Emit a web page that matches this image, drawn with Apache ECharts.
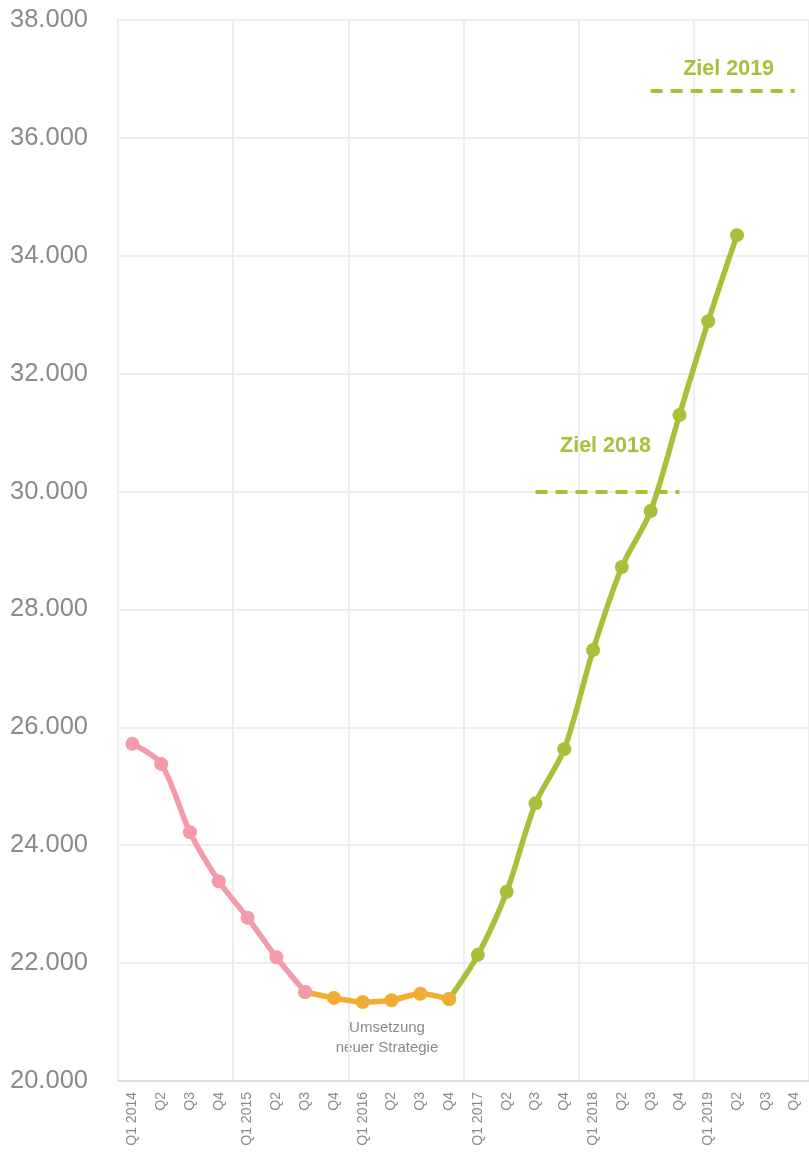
<!DOCTYPE html>
<html>
<head>
<meta charset="utf-8">
<script src="https://cdn.jsdelivr.net/npm/echarts@6/dist/echarts.min.js"></script>
<style>html,body{margin:0;padding:0;background:#fff;}#c{width:809px;height:1155px;}</style>
</head>
<body>
<div id="c"></div>
<script>
const categories = ['Q1 2014','Q2','Q3','Q4','Q1 2015','Q2','Q3','Q4','Q1 2016','Q2','Q3','Q4','Q1 2017','Q2','Q3','Q4','Q1 2018','Q2','Q3','Q4','Q1 2019','Q2','Q3','Q4'];
// values per quarter (null = not part of this phase)
const phaseBefore = [25720,25380,24220,23390,22770,22100,21510,null,null,null,null,null,null,null,null,null,null,null,null,null,null,null,null,null];
const phaseTransition = [null,null,null,null,null,null,21510,21410,21340,21370,21480,21390,null,null,null,null,null,null,null,null,null,null,null,null];
const phaseAfter = [null,null,null,null,null,null,null,null,null,null,null,21390,22140,23210,24710,25630,27310,28720,29670,31300,32890,34350,null,null];
const targets = [
  {name:'Ziel 2018', value:30000, from:[2017,3], to:[2018,4]},
  {name:'Ziel 2019', value:36800, from:[2018,3], to:[2019,4]}
];
const yTicks = {min:20000, max:38000, interval:2000};
const firstYear = 2014;

function qIndex(yq){ return (yq[0]-firstYear)*4 + (yq[1]-1); }

const FONT = '"Liberation Sans",Arial,sans-serif';
const GREEN = '#a6c03a', ORANGE = '#f2ac32', PINK = '#f59aaa', GREY = '#8a8a8a';

const chart = echarts.init(document.getElementById('c'));
const targetLabelStyle = [{distance: 34, padding: [0, 4, 0, 0]}, {distance: 11, padding: [0, 0, 0, 12]}];
const option = {
  animation: false,
  grid: {left: 118, right: 0, top: 20, bottom: 74, containLabel: false, outerBoundsMode: 'none'},
  xAxis: {
    type: 'category',
    data: categories.map((c,i)=>({value: c + '\u200b'.repeat(i)})),
    boundaryGap: true,
    axisLine: {show: true, lineStyle: {color: '#dedede', width: 2}},
    axisTick: {show: false},
    axisLabel: {rotate: 90, color: GREY, fontSize: 14, fontFamily: FONT, margin: 11, interval: 0,
      formatter: v => v.replace(/\u200b/g,'')},
    splitLine: {show: true, interval: (i)=> i % 4 === 0, lineStyle: {color: '#eeeeee', width: 2}}
  },
  yAxis: {
    type: 'value', min: yTicks.min, max: yTicks.max, interval: yTicks.interval,
    axisLine: {show: false}, axisTick: {show: false},
    axisLabel: {color: GREY, fontSize: 25.5, fontFamily: FONT, margin: 30, padding: [3, 0, 0, 0],
      formatter: v => (v/1000).toFixed(3)},
    splitLine: {show: true, lineStyle: {color: '#eeeeee', width: 2}}
  },
  series: [
    {
      type: 'line', data: phaseAfter, smooth: 0.3, symbol: 'circle', symbolSize: 14,
      lineStyle: {color: GREEN, width: 5.5}, itemStyle: {color: GREEN},
      markLine: {
        silent: true, symbol: ['none','none'],
        lineStyle: {color: GREEN, width: 4, type: [12, 8]},
        data: targets.map((t, k) => [
          {coord: [qIndex(t.from), t.value],
           label: {show: true, position: 'middle', formatter: t.name, color: GREEN, fontWeight: 'bold',
             fontSize: 21.5, fontFamily: FONT, distance: targetLabelStyle[k].distance,
             padding: targetLabelStyle[k].padding}},
          {coord: [qIndex(t.to), t.value]}
        ])
      }
    },
    {
      type: 'line', data: phaseTransition, smooth: 0.3, symbol: 'circle', symbolSize: 14,
      lineStyle: {color: ORANGE, width: 5.5}, itemStyle: {color: ORANGE}
    },
    {
      type: 'line', data: phaseBefore, smooth: 0.3, symbol: 'circle', symbolSize: 14,
      lineStyle: {color: PINK, width: 5.5}, itemStyle: {color: PINK}
    }
  ],
  graphic: [{
    type: 'text', x: 387, y: 1018,
    style: {text: 'Umsetzung\nneuer Strategie', fill: GREY, font: '15px ' + FONT, align: 'center', lineHeight: 20}
  }]
};
chart.setOption(option);
</script>
</body>
</html>
